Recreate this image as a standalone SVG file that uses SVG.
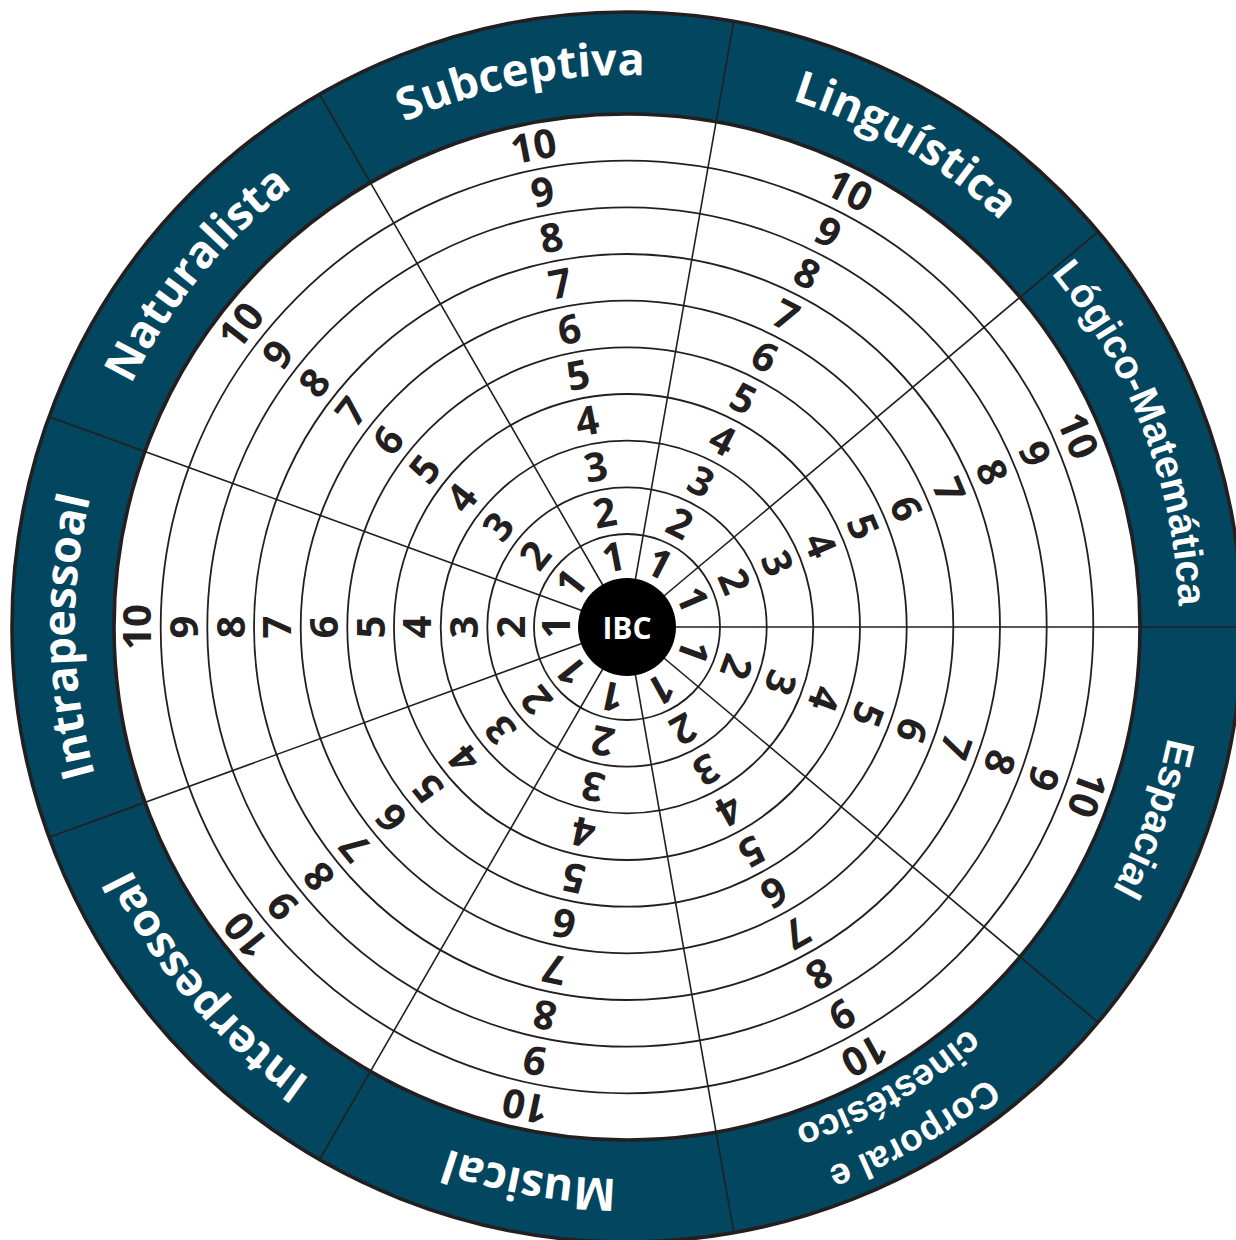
<svg xmlns="http://www.w3.org/2000/svg" xmlns:xlink="http://www.w3.org/1999/xlink" width="1236" height="1240" viewBox="0 0 1236 1240">
<defs>
<style>
.ring{fill:none;stroke:#231f20;stroke-width:1.8}
.edge{fill:none;stroke:#231f20;stroke-width:3.6}
.spoke{stroke:#231f20;stroke-width:1.6}
.num{font-family:"Open Sans","Liberation Sans",sans-serif;font-weight:700;font-size:40px;fill:#231f20;text-anchor:middle}
.lab{font-family:"Open Sans","Liberation Sans",sans-serif;font-weight:700;font-size:45px;fill:#ffffff;text-anchor:middle}
.lab2{font-family:"Liberation Sans",Arial,sans-serif;font-weight:700;font-size:40px;fill:#ffffff;text-anchor:middle}
.lab3{font-family:"Liberation Sans",Arial,sans-serif;font-weight:700;font-size:37px;fill:#ffffff;text-anchor:middle}
</style>
<path id="pSub" d="M105.1 447.3 A552 552 0 0 1 1043.6 264.8"/>
<path id="pLin" d="M351 148.97 A552 552 0 0 1 1179 627"/>
<path id="pLog" d="M713.4 81.8 A552 552 0 0 1 1056 974.4"/>
<path id="pEsp" d="M1049.9 272.2 A552 552 0 0 1 722.8 1170.6"/>
<path id="pCor1" d="M1204 632 A577 577 0 0 1 334.2 1124.1"/>
<path id="pCor2" d="M1154 631.6 A527 527 0 0 1 359.5 1081"/>
<path id="pMus" d="M1049.9 981.8 A552 552 0 0 1 108.3 815.8"/>
<path id="pInter" d="M727.6 1169.8 A552 552 0 0 1 106.7 442.7"/>
<path id="pIntra" d="M359.4 1109.8 A552 552 0 0 1 342.7 153.8"/>
<path id="pNat" d="M110.3 821.2 A552 552 0 0 1 717.1 82.4"/>
</defs>
<rect width="1236" height="1240" fill="#ffffff"/>
<g id="band">
<circle cx="627" cy="627" r="615" fill="#02465f"/>
<circle cx="627" cy="627" r="513" fill="#ffffff"/>
</g>
<g id="rings">
<circle class="ring" cx="627" cy="627" r="93"/>
<circle class="ring" cx="627" cy="627" r="139.7"/>
<circle class="ring" cx="627" cy="627" r="186.3"/>
<circle class="ring" cx="627" cy="627" r="233"/>
<circle class="ring" cx="627" cy="627" r="279.7"/>
<circle class="ring" cx="627" cy="627" r="326.3"/>
<circle class="ring" cx="627" cy="627" r="373"/>
<circle class="ring" cx="627" cy="627" r="419.7"/>
<circle class="ring" cx="627" cy="627" r="466.3"/>
</g>
<g id="spokes" transform="translate(627 627)">
<line class="spoke" x1="0" y1="0" x2="615" y2="0"/>
<line class="spoke" x1="0" y1="0" x2="615" y2="0" transform="rotate(40)"/>
<line class="spoke" x1="0" y1="0" x2="615" y2="0" transform="rotate(80)"/>
<line class="spoke" x1="0" y1="0" x2="615" y2="0" transform="rotate(120)"/>
<line class="spoke" x1="0" y1="0" x2="615" y2="0" transform="rotate(160)"/>
<line class="spoke" x1="0" y1="0" x2="615" y2="0" transform="rotate(200)"/>
<line class="spoke" x1="0" y1="0" x2="615" y2="0" transform="rotate(240)"/>
<line class="spoke" x1="0" y1="0" x2="615" y2="0" transform="rotate(280)"/>
<line class="spoke" x1="0" y1="0" x2="615" y2="0" transform="rotate(320)"/>
</g>
<g id="edges">
<circle class="edge" cx="627" cy="627" r="513"/>
<circle class="edge" cx="627" cy="627" r="615"/>
</g>
<g id="labels">
<text class="lab"><textPath href="#pSub" startOffset="50%">Subceptiva</textPath></text>
<text class="lab"><textPath href="#pLin" startOffset="50%">Linguística</textPath></text>
<text class="lab2"><textPath href="#pLog" startOffset="50%">Lógico-Matemática</textPath></text>
<text class="lab2"><textPath href="#pEsp" startOffset="50%">Espacial</textPath></text>
<text class="lab3"><textPath href="#pCor1" startOffset="50%">Corporal e</textPath></text>
<text class="lab3"><textPath href="#pCor2" startOffset="50%">cinestésico</textPath></text>
<text class="lab"><textPath href="#pMus" startOffset="50%">Musical</textPath></text>
<text class="lab"><textPath href="#pInter" startOffset="50%">Interpessoal</textPath></text>
<text class="lab"><textPath href="#pIntra" startOffset="50%">Intrapessoal</textPath></text>
<text class="lab"><textPath href="#pNat" startOffset="50%">Naturalista</textPath></text>
</g>
<g id="sector-logico" transform="translate(627 627) rotate(337)">
<text class="num" transform="translate(71 0) rotate(90)" y="14">1</text>
<text class="num" transform="translate(116.3 0) rotate(90)" y="14">2</text>
<text class="num" transform="translate(163 0) rotate(90)" y="14">3</text>
<text class="num" transform="translate(209.7 0) rotate(90)" y="14">4</text>
<text class="num" transform="translate(256.3 0) rotate(90)" y="14">5</text>
<text class="num" transform="translate(303 0) rotate(90)" y="14">6</text>
<text class="num" transform="translate(349.7 0) rotate(90)" y="14">7</text>
<text class="num" transform="translate(396.4 0) rotate(90)" y="14">8</text>
<text class="num" transform="translate(443 0) rotate(90)" y="14">9</text>
<text class="num" transform="translate(489.7 0) rotate(90)" y="14">10</text>
</g>
<g id="sector-espacial" transform="translate(627 627) rotate(20)">
<text class="num" transform="translate(71 0) rotate(90)" y="14">1</text>
<text class="num" transform="translate(116.3 0) rotate(90)" y="14">2</text>
<text class="num" transform="translate(163 0) rotate(90)" y="14">3</text>
<text class="num" transform="translate(209.7 0) rotate(90)" y="14">4</text>
<text class="num" transform="translate(256.3 0) rotate(90)" y="14">5</text>
<text class="num" transform="translate(303 0) rotate(90)" y="14">6</text>
<text class="num" transform="translate(349.7 0) rotate(90)" y="14">7</text>
<text class="num" transform="translate(396.4 0) rotate(90)" y="14">8</text>
<text class="num" transform="translate(443 0) rotate(90)" y="14">9</text>
<text class="num" transform="translate(489.7 0) rotate(90)" y="14">10</text>
</g>
<g id="sector-corporal" transform="translate(627 627) rotate(61)">
<text class="num" transform="translate(71 0) rotate(90)" y="14">1</text>
<text class="num" transform="translate(116.3 0) rotate(90)" y="14">2</text>
<text class="num" transform="translate(163 0) rotate(90)" y="14">3</text>
<text class="num" transform="translate(209.7 0) rotate(90)" y="14">4</text>
<text class="num" transform="translate(256.3 0) rotate(90)" y="14">5</text>
<text class="num" transform="translate(303 0) rotate(90)" y="14">6</text>
<text class="num" transform="translate(349.7 0) rotate(90)" y="14">7</text>
<text class="num" transform="translate(396.4 0) rotate(90)" y="14">8</text>
<text class="num" transform="translate(443 0) rotate(90)" y="14">9</text>
<text class="num" transform="translate(489.7 0) rotate(90)" y="14">10</text>
</g>
<g id="sector-musical" transform="translate(627 627) rotate(102)">
<text class="num" transform="translate(71 0) rotate(90)" y="14">1</text>
<text class="num" transform="translate(116.3 0) rotate(90)" y="14">2</text>
<text class="num" transform="translate(163 0) rotate(90)" y="14">3</text>
<text class="num" transform="translate(209.7 0) rotate(90)" y="14">4</text>
<text class="num" transform="translate(256.3 0) rotate(90)" y="14">5</text>
<text class="num" transform="translate(303 0) rotate(90)" y="14">6</text>
<text class="num" transform="translate(349.7 0) rotate(90)" y="14">7</text>
<text class="num" transform="translate(396.4 0) rotate(90)" y="14">8</text>
<text class="num" transform="translate(443 0) rotate(90)" y="14">9</text>
<text class="num" transform="translate(489.7 0) rotate(90)" y="14">10</text>
</g>
<g id="sector-interpessoal" transform="translate(627 627) rotate(141)">
<text class="num" transform="translate(71 0) rotate(90)" y="14">1</text>
<text class="num" transform="translate(116.3 0) rotate(90)" y="14">2</text>
<text class="num" transform="translate(163 0) rotate(90)" y="14">3</text>
<text class="num" transform="translate(209.7 0) rotate(90)" y="14">4</text>
<text class="num" transform="translate(256.3 0) rotate(90)" y="14">5</text>
<text class="num" transform="translate(303 0) rotate(90)" y="14">6</text>
<text class="num" transform="translate(349.7 0) rotate(90)" y="14">7</text>
<text class="num" transform="translate(396.4 0) rotate(90)" y="14">8</text>
<text class="num" transform="translate(443 0) rotate(90)" y="14">9</text>
<text class="num" transform="translate(489.7 0) rotate(90)" y="14">10</text>
</g>
<g id="sector-intrapessoal" transform="translate(627 627) rotate(180)">
<text class="num" transform="translate(71 0) rotate(90)" y="14">1</text>
<text class="num" transform="translate(116.3 0) rotate(90)" y="14">2</text>
<text class="num" transform="translate(163 0) rotate(90)" y="14">3</text>
<text class="num" transform="translate(209.7 0) rotate(90)" y="14">4</text>
<text class="num" transform="translate(256.3 0) rotate(90)" y="14">5</text>
<text class="num" transform="translate(303 0) rotate(90)" y="14">6</text>
<text class="num" transform="translate(349.7 0) rotate(90)" y="14">7</text>
<text class="num" transform="translate(396.4 0) rotate(90)" y="14">8</text>
<text class="num" transform="translate(443 0) rotate(90)" y="14">9</text>
<text class="num" transform="translate(489.7 0) rotate(90)" y="14">10</text>
</g>
<g id="sector-naturalista" transform="translate(627 627) rotate(218)">
<text class="num" transform="translate(71 0) rotate(90)" y="14">1</text>
<text class="num" transform="translate(116.3 0) rotate(90)" y="14">2</text>
<text class="num" transform="translate(163 0) rotate(90)" y="14">3</text>
<text class="num" transform="translate(209.7 0) rotate(90)" y="14">4</text>
<text class="num" transform="translate(256.3 0) rotate(90)" y="14">5</text>
<text class="num" transform="translate(303 0) rotate(90)" y="14">6</text>
<text class="num" transform="translate(349.7 0) rotate(90)" y="14">7</text>
<text class="num" transform="translate(396.4 0) rotate(90)" y="14">8</text>
<text class="num" transform="translate(443 0) rotate(90)" y="14">9</text>
<text class="num" transform="translate(489.7 0) rotate(90)" y="14">10</text>
</g>
<g id="sector-subceptiva" transform="translate(627 627) rotate(259)">
<text class="num" transform="translate(71 0) rotate(90)" y="14">1</text>
<text class="num" transform="translate(116.3 0) rotate(90)" y="14">2</text>
<text class="num" transform="translate(163 0) rotate(90)" y="14">3</text>
<text class="num" transform="translate(209.7 0) rotate(90)" y="14">4</text>
<text class="num" transform="translate(256.3 0) rotate(90)" y="14">5</text>
<text class="num" transform="translate(303 0) rotate(90)" y="14">6</text>
<text class="num" transform="translate(349.7 0) rotate(90)" y="14">7</text>
<text class="num" transform="translate(396.4 0) rotate(90)" y="14">8</text>
<text class="num" transform="translate(443 0) rotate(90)" y="14">9</text>
<text class="num" transform="translate(489.7 0) rotate(90)" y="14">10</text>
</g>
<g id="sector-linguistica" transform="translate(627 627) rotate(297)">
<text class="num" transform="translate(71 0) rotate(90)" y="14">1</text>
<text class="num" transform="translate(116.3 0) rotate(90)" y="14">2</text>
<text class="num" transform="translate(163 0) rotate(90)" y="14">3</text>
<text class="num" transform="translate(209.7 0) rotate(90)" y="14">4</text>
<text class="num" transform="translate(256.3 0) rotate(90)" y="14">5</text>
<text class="num" transform="translate(303 0) rotate(90)" y="14">6</text>
<text class="num" transform="translate(349.7 0) rotate(90)" y="14">7</text>
<text class="num" transform="translate(396.4 0) rotate(90)" y="14">8</text>
<text class="num" transform="translate(443 0) rotate(90)" y="14">9</text>
<text class="num" transform="translate(489.7 0) rotate(90)" y="14">10</text>
</g>
<g id="ibc">
<circle cx="627" cy="627" r="49" fill="#000000"/>
<text x="627" y="639" font-family="'Open Sans','Liberation Sans',sans-serif" font-weight="700" font-size="30" fill="#ffffff" text-anchor="middle">IBC</text>
</g>
</svg>
